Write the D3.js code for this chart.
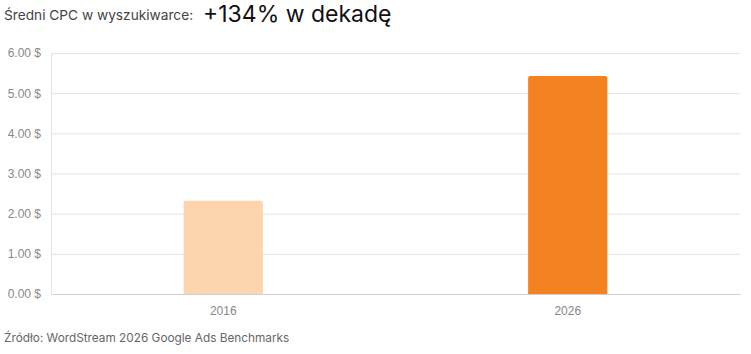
<!DOCTYPE html>
<meta charset="utf-8">
<style>
  body { margin: 0; background: #fff; }
  .title-small { font: 13.7px Inter, sans-serif; fill: #444; }
  .title-big { font: 23px Inter, sans-serif; fill: #111; }
  .source { font: 11.8px Inter, sans-serif; fill: #666; }
  .axis text { font: 12px "Liberation Sans", Arial, sans-serif; fill: #888; }
</style>
<body>
<svg width="751" height="354"></svg>
<script src="https://d3js.org/d3.v7.min.js"></script>
<script>
  var years = ["2016", "2026"];
  var cpc = [2.32, 5.43];
  var barColors = ["#FCD5AE", "#F58220"];
  var yTicks = [0, 1, 2, 3, 4, 5, 6];

  var svg = d3.select("svg");
  var margin = { top: 53, right: 11, bottom: 60, left: 51 };
  var width = 751 - margin.left - margin.right,
      height = 354 - margin.top - margin.bottom;

  svg.append("text").attr("class", "title-small").attr("x", 4).attr("y", 20)
      .text("Średni CPC w wyszukiwarce:");
  svg.append("text").attr("class", "title-big").attr("x", 203).attr("y", 22)
      .text("+134% w dekadę");
  svg.append("text").attr("class", "source").attr("x", 4).attr("y", 342)
      .text("Źródło: WordStream 2026 Google Ads Benchmarks");

  var g = svg.append("g").attr("transform", "translate(" + margin.left + "," + margin.top + ")");

  var x = d3.scaleBand().domain(years).range([0, width]).paddingInner(0.77).paddingOuter(0.385);
  var y = d3.scaleLinear().domain([0, 6]).range([height, 0]);

  // grid
  g.append("g").selectAll("line").data(yTicks.slice(1)).enter().append("line")
      .attr("x1", 0).attr("x2", width)
      .attr("y1", function(d) { return y(d) + 0.5; })
      .attr("y2", function(d) { return y(d) + 0.5; })
      .attr("stroke", "#e3e3e3");

  g.append("line").attr("x1", 0.5).attr("x2", 0.5).attr("y1", 0).attr("y2", height)
      .attr("stroke", "#e3e3e3");

  // y axis labels
  var ya = g.append("g").attr("class", "axis")
      .call(d3.axisLeft(y).tickValues(yTicks).tickSize(0).tickPadding(10)
          .tickFormat(function(d) { return d3.format(".2f")(d) + " $"; }));
  ya.select(".domain").remove();

  // bars with rounded tops
  var r = 2;
  g.selectAll(".bar").data(cpc).enter().append("path")
      .attr("class", "bar")
      .attr("fill", function(d, i) { return barColors[i]; })
      .attr("d", function(d, i) {
        var x0 = x(years[i]), w = x.bandwidth(), y0 = y(d), b = y(0);
        return "M" + x0 + "," + b + "V" + (y0 + r) + "Q" + x0 + "," + y0 + " " + (x0 + r) + "," + y0 +
          "H" + (x0 + w - r) + "Q" + (x0 + w) + "," + y0 + " " + (x0 + w) + "," + (y0 + r) + "V" + b + "Z";
      });

  // x axis
  var xa = g.append("g").attr("class", "axis").attr("transform", "translate(0," + height + ")")
      .call(d3.axisBottom(x).tickSize(0).tickPadding(12));
  xa.select(".domain").attr("stroke", "#cfcfcf");
</script>
</body>
